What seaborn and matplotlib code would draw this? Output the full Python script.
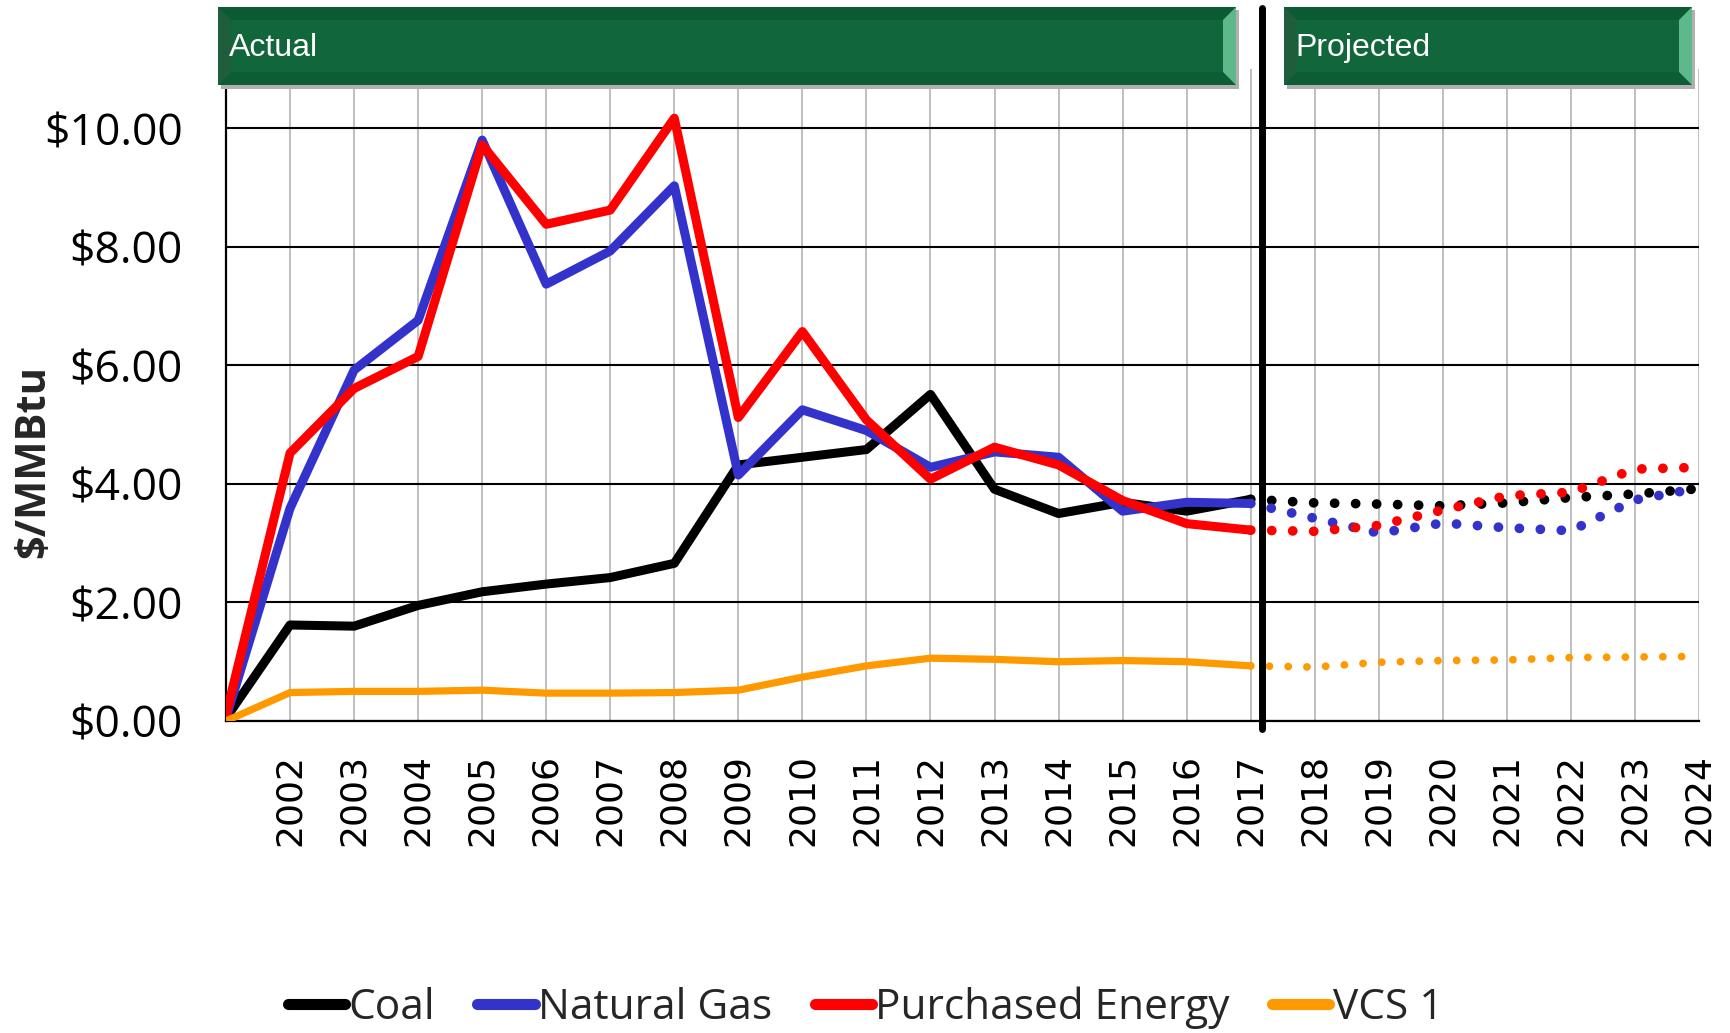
import matplotlib
matplotlib.use("Agg")
import matplotlib.pyplot as plt
from matplotlib.patches import Polygon
from matplotlib.lines import Line2D
import seaborn as sns

# data
actual_years = list(range(2001, 2018))
proj_years = list(range(2017, 2025))
all_years = list(range(2001, 2025))
year_labels = [""] + [str(y) for y in range(2002, 2025)]

coal_actual = [0.05, 1.62, 1.60, 1.95, 2.18, 2.31, 2.42, 2.66, 4.32, 4.45, 4.58, 5.51, 3.91, 3.50, 3.69, 3.54, 3.74]
gas_actual = [0.05, 3.59, 5.92, 6.76, 9.80, 7.37, 7.93, 9.03, 4.15, 5.25, 4.90, 4.28, 4.54, 4.45, 3.54, 3.69, 3.67]
purch_actual = [0.10, 4.52, 5.61, 6.15, 9.72, 8.38, 8.62, 10.17, 5.12, 6.57, 5.08, 4.08, 4.62, 4.32, 3.72, 3.33, 3.22]
vcs_actual = [0.00, 0.48, 0.50, 0.50, 0.52, 0.47, 0.47, 0.48, 0.52, 0.74, 0.93, 1.06, 1.04, 1.00, 1.02, 1.00, 0.93]

coal_proj = [3.74, 3.68, 3.66, 3.63, 3.68, 3.77, 3.83, 3.92]
gas_proj = [3.67, 3.42, 3.17, 3.34, 3.26, 3.21, 3.73, 3.93]
purch_proj = [3.22, 3.20, 3.30, 3.56, 3.80, 3.86, 4.25, 4.28]
vcs_proj = [0.93, 0.91, 0.99, 1.02, 1.03, 1.07, 1.08, 1.09]

series_names = ["Coal", "Natural Gas", "Purchased Energy", "VCS 1"]
colors = ["#000000", "#3333CC", "#FF0000", "#FF9900"]
y_ticks = [0, 2, 4, 6, 8, 10]

sns.set_style("white")
plt.rcParams["font.family"] = ["Open Sans", "DejaVu Sans"]

W, H = 1731, 1033
fig = plt.figure(figsize=(W / 100, H / 100), dpi=100)
ax = fig.add_axes([226 / W, 1 - 721 / H, (1699 - 226) / W, (721 - 69) / H])

actuals = [coal_actual, gas_actual, purch_actual, vcs_actual]
projs = [coal_proj, gas_proj, purch_proj, vcs_proj]
widths = [6.5, 6.5, 6.5, 5.2]
dot_widths = [7.0, 7.0, 7.0, 5.6]
gaps = [2.15, 2.15, 2.15, 2.4]
for name, act, pr, c, lw, dw, g in zip(series_names, actuals, projs, colors, widths, dot_widths, gaps):
    sns.lineplot(x=actual_years, y=act, ax=ax, color=c, lw=lw,
                 solid_joinstyle="round", solid_capstyle="round", zorder=3)
    sns.lineplot(x=proj_years, y=pr, ax=ax, color=c, lw=dw,
                 linestyle=(0, (0.01, g)), dash_capstyle="round", zorder=3)

ax.set_xlim(2001, 2024)
ax.set_ylim(0, 11)
ax.set_xticks(all_years)
ax.set_xticklabels(year_labels, rotation=90, family=["DejaVu Sans"], fontsize=26)
ax.set_yticks(y_ticks)
ax.set_yticklabels([f"${v:.2f}" for v in y_ticks], fontsize=32)
ax.tick_params(axis="x", direction="out", length=10, width=1.5, pad=14, colors="black")
ax.tick_params(axis="y", direction="out", length=10, width=1.5, pad=21, colors="black")
ax.grid(axis="x", color="#BFBFBF", lw=1.4)
ax.grid(axis="y", color="black", lw=1.5)
ax.set_axisbelow(True)
for s in ["top", "right"]:
    ax.spines[s].set_visible(False)
for s in ["left", "bottom"]:
    ax.spines[s].set_color("black")
    ax.spines[s].set_linewidth(1.6)
ax.set_xlabel("")
ax.set_ylabel("")

# divider between actual and projected
ax.axvline(2017.18, ymin=-0.012, ymax=1.094, color="black", lw=5, clip_on=False, zorder=5)

fig.text(34 / W, 1 - 461 / H, "$/MMBtu", rotation=90, ha="center", va="center",
         fontsize=30, fontweight="bold")


def px(x, y):
    return (x / W, 1 - y / H)


def banner(x0, x1, y0, y1, text):
    b = 13
    base = "#11663B"
    parts = [
        ([(x0, y0), (x1, y0), (x1, y1), (x0, y1)], base),
        ([(x0, y0), (x1, y0), (x1 - b, y0 + b), (x0 + b, y0 + b)], "#0B5A33"),
        ([(x0, y1), (x1, y1), (x1 - b, y1 - b), (x0 + b, y1 - b)], "#0C5C35"),
        ([(x0, y0), (x0 + b, y0 + b), (x0 + b, y1 - b), (x0, y1)], "#1E5E3C"),
        ([(x1, y0), (x1 - b, y0 + b), (x1 - b, y1 - b), (x1, y1)], "#5DB88A"),
    ]
    shadow = Polygon([px(x0 + 3, y0 + 3), px(x1 + 3, y0 + 3), px(x1 + 3, y1 + 4), px(x0 + 3, y1 + 4)],
                     closed=True, transform=fig.transFigure, facecolor="#B0B0B0", edgecolor="none", zorder=9)
    fig.patches.append(shadow)
    for pts, col in parts:
        fig.patches.append(Polygon([px(*p) for p in pts], closed=True, transform=fig.transFigure,
                                   facecolor=col, edgecolor="none", zorder=10))
    fig.text(*px(x0 + 11, (y0 + y1) / 2 + 2), text, color="white", fontsize=23, ha="left", va="center",
             family=["Liberation Sans", "DejaVu Sans"], zorder=11)


banner(218, 1236, 7, 85, "Actual")
banner(1284, 1692, 7, 85, "Projected")

handles = [Line2D([0], [0], color=c, lw=8, solid_capstyle="round") for c in colors]
fig.legend(handles, series_names, loc="center", bbox_to_anchor=(0.5, 1 - 1008 / H), ncol=4,
           frameon=False, fontsize=30.5, handlelength=1.35, handletextpad=0.08, columnspacing=1.0)

fig.savefig("out.png", dpi=100)
